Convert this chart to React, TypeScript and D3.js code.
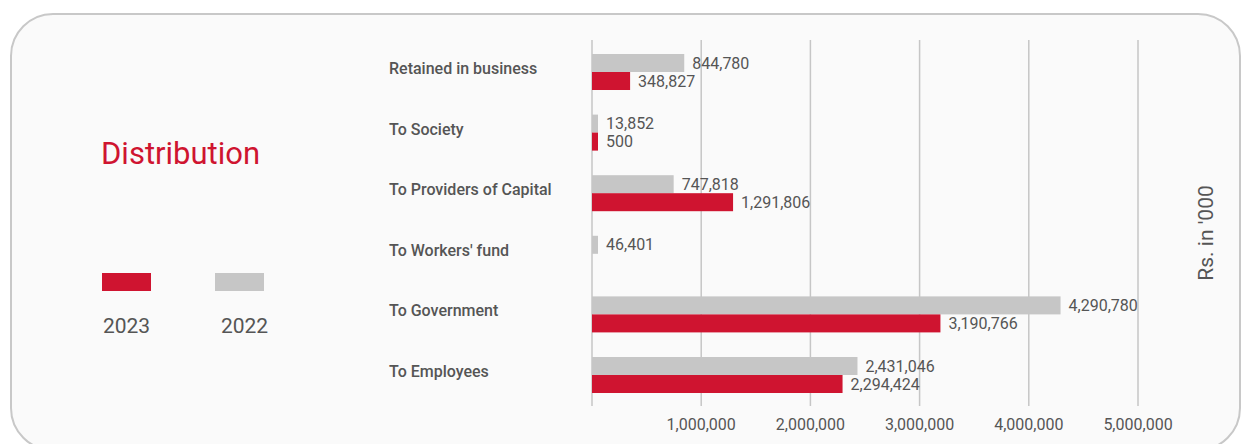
import React from "react";
import * as d3 from "d3";

const categories = [
  "Retained in business",
  "To Society",
  "To Providers of Capital",
  "To Workers' fund",
  "To Government",
  "To Employees",
];
const series = ["2022", "2023"];
const values2022 = [844780, 13852, 747818, 46401, 4290780, 2431046];
const values2023 = [348827, 500, 1291806, 0, 3190766, 2294424];
const tickValues = [0, 1000000, 2000000, 3000000, 4000000, 5000000];
const legendItems = ["2023", "2022"];

const W = 1245;
const H = 444;
const RED = "#cf1430";
const GRAY = "#c6c6c6";
const TEXT = "#555555";
const FONT = "Roboto, 'Noto Sans', sans-serif";

export default function App() {
  const x = d3.scaleLinear().domain([0, 5000000]).range([592, 1138]);
  const y = d3.scaleBand<string>().domain(categories).range([41.7, 405.3]).padding(0);
  const inner = d3
    .scaleBand<string>()
    .domain(series)
    .range([0, y.bandwidth()])
    .paddingInner(0)
    .paddingOuter(0.683);
  const fmt = d3.format(",");
  const color: Record<string, string> = { "2022": GRAY, "2023": RED };
  const valuesBy: Record<string, number[]> = { "2022": values2022, "2023": values2023 };
  const minW = 6;

  return (
    <svg
      width={W}
      height={H}
      style={{ position: "absolute", left: 0, top: 0, background: "#ffffff" }}
      fontFamily={FONT}
    >
      <rect x={11} y={14} width={1229} height={436} rx={42} ry={42} fill="#fafafa" stroke="#c8c8c8" strokeWidth={2} />

      <text x={101} y={164} fontSize={31} fill={RED}>Distribution</text>

      {legendItems.map((s, i) => {
        const lx = 102 + i * 113;
        return (
          <g key={s}>
            <rect x={lx} y={273} width={49} height={18} fill={color[s]} />
            <text x={lx + 24.5 + (i === 1 ? 5 : 0)} y={333} fontSize={21} fill={TEXT} textAnchor="middle">{s}</text>
          </g>
        );
      })}

      {tickValues.map((t) => (
        <g key={t}>
          <line x1={x(t)} x2={x(t)} y1={40} y2={406} stroke="#c6c6c6" strokeWidth={1.5} />
          {t > 0 && (
            <text x={x(t)} y={430} fontSize={16} fill={TEXT} textAnchor="middle">{fmt(t)}</text>
          )}
        </g>
      ))}

      {categories.map((c, ci) => {
        const by = y(c)!;
        const cy = by + y.bandwidth() / 2;
        return (
          <g key={c}>
            <text x={389} y={cy + 2} fontSize={16} fontWeight={500} fill={TEXT}>{c}</text>
            {series.map((s) => {
              const v = valuesBy[s][ci];
              if (!v) return null;
              const yy = by + inner(s)!;
              const w = Math.max(minW, x(v) - x(0));
              return (
                <g key={s}>
                  <rect x={x(0)} y={yy} width={w} height={inner.bandwidth()} fill={color[s]} />
                  <text
                    x={x(0) + w + 8}
                    y={yy + inner.bandwidth() / 2}
                    dy="0.35em"
                    fontSize={16}
                    fill={TEXT}
                  >
                    {fmt(v)}
                  </text>
                </g>
              );
            })}
          </g>
        );
      })}

      <text
        transform={`translate(1213,233) rotate(-90)`}
        textAnchor="middle"
        fontSize={21}
        fill={TEXT}
      >
        Rs. in '000
      </text>
    </svg>
  );
}
